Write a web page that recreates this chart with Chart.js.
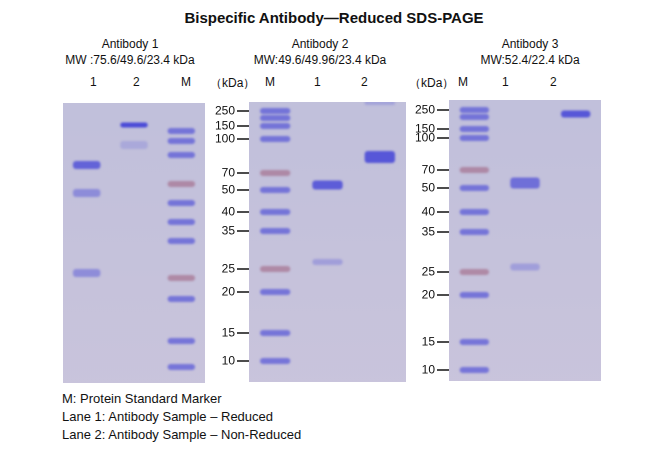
<!DOCTYPE html>
<html><head><meta charset="utf-8">
<script src="https://cdn.jsdelivr.net/npm/chart.js@4"></script>
<style>
body{margin:0;width:668px;height:450px;background:#fff;font-family:"Liberation Sans",Arial,sans-serif;position:relative;overflow:hidden}
.t{position:absolute;white-space:nowrap;color:#111;font-size:12px}
.c{position:absolute}
</style></head><body>
<div class="t" style="left:0;width:668px;text-align:center;top:9px;font-weight:bold;font-size:15px">Bispecific Antibody—Reduced SDS-PAGE</div>
<div class="t" style="left:40px;width:180px;text-align:center;top:37px">Antibody 1</div>
<div class="t" style="left:40px;width:180px;text-align:center;top:53px">MW :75.6/49.6/23.4 kDa</div>
<div class="t" style="left:230px;width:180px;text-align:center;top:37px">Antibody 2</div>
<div class="t" style="left:230px;width:180px;text-align:center;top:53px">MW:49.6/49.96/23.4 kDa</div>
<div class="t" style="left:440px;width:180px;text-align:center;top:37px">Antibody 3</div>
<div class="t" style="left:440px;width:180px;text-align:center;top:53px">MW:52.4/22.4 kDa</div>
<div class="t" style="left:90px;top:75px">1</div><div class="t" style="left:133px;top:75px">2</div><div class="t" style="left:181px;top:75px">M</div>
<div class="t" style="left:210px;top:75px">（kDa）</div>
<div class="t" style="left:265px;top:75px">M</div><div class="t" style="left:314px;top:75px">1</div><div class="t" style="left:361px;top:75px">2</div>
<div class="t" style="left:409px;top:75px">（kDa）</div>
<div class="t" style="left:458px;top:75px">M</div><div class="t" style="left:502px;top:75px">1</div><div class="t" style="left:550px;top:75px">2</div>
<div class="t" style="left:62px;top:391px;font-size:13px">M: Protein Standard Marker</div>
<div class="t" style="left:62px;top:409px;font-size:13px">Lane 1: Antibody Sample – Reduced</div>
<div class="t" style="left:62px;top:427px;font-size:13px">Lane 2: Antibody Sample – Non-Reduced</div>

<canvas id="g1" class="c" style="left:63px;top:103px"></canvas>
<canvas id="g2" class="c" style="left:206px;top:102px"></canvas>
<canvas id="g3" class="c" style="left:406px;top:100px"></canvas>
<script>
// migration distance from gel top (px units) for each band, and ladder labels
const kdaLabels = [250,150,100,70,50,40,35,25,20,15,10];
const gel2Ticks = [9,24,37,71,88,110,129,167,190,231,259];
const gel3Ticks = [10,29,38,70,88,112,132,172,195,242,270];

const gel1Lanes = ['1','2','M'];
const gel1Marker = [28,38,52,81,100,119,138,175,196,238,264];
const gel1Red = [81,175];
const gel1Lane1 = [62,90,170];
const gel1Lane2 = [22,42];
const gel1Lane1Int = [0.8,0.45,0.45];
const gel1Lane2Int = [1,0.2];

const gel2Lanes = ['M','1','2'];
const gel2Marker = [9,16,24,37,71,88,110,129,167,190,231,259];
const gel2Red = [71,167];
const gel2Lane1 = [83,160];
const gel2Lane2 = [55,1];
const gel2Lane1Int = [0.85,0.3];
const gel2Lane2Int = [0.9,0.25];

const gel3Lanes = ['M','1','2'];
const gel3Marker = [10,17,29,38,70,88,112,132,172,195,242,270];
const gel3Red = [70,172];
const gel3Lane1 = [83,167];
const gel3Lane2 = [14];
const gel3Lane1Int = [0.7,0.3];
const gel3Lane2Int = [0.9];

const blue = a => `rgba(75,75,215,${a})`;
function bands(lane, pos, ints, half, red){
  return pos.map((p,i)=>({x:lane, y:[p-half[i%half.length], p+half[i%half.length]],
    c: red && red.includes(p) ? 'rgba(160,100,130,0.6)' : blue(ints ? ints[i] : 0.65)}));
}
const gelBg = {id:'gelBg', beforeDraw(ch){const a=ch.chartArea,x=ch.ctx;x.save();
  const g=x.createLinearGradient(0,a.top,0,a.bottom);g.addColorStop(0,'#c1c0db');g.addColorStop(1,'#c9c4dc');
  x.fillStyle=g;x.fillRect(a.left,a.top,a.right-a.left,a.bottom-a.top);x.restore();},
  beforeDatasetsDraw(ch){ch.ctx.save();ch.ctx.filter='blur(2px)';},
  afterDatasetsDraw(ch){ch.ctx.restore();}};

function makeGel(id,w,h,lanes,marker,red,l1,i1,l2,i2,ticks,axisW,thick){
  const ds = [
    bands('M',marker,null,[3],red),
    bands('1',l1,i1,thick[0]),
    bands('2',l2,i2,thick[1])
  ].map(d=>({data:d, backgroundColor:d.map(p=>p.c), grouped:false, barPercentage:0.58, categoryPercentage:1, borderSkipped:false, borderRadius:3}));
  const cv=document.getElementById(id);
  cv.style.width=w+'px';cv.style.height=h+'px';
  new Chart(cv,{type:'bar',data:{labels:lanes,datasets:ds},plugins:[gelBg],
    options:{responsive:false,animation:false,devicePixelRatio:2,layout:{padding:0},
      plugins:{legend:{display:false},tooltip:{enabled:false}},
      scales:{x:{display:false},
        y:{min:0,max:h,reverse:true,display:!!ticks,
          afterFit(s){s.width=axisW;s.paddingTop=0;s.paddingBottom=0;},
          afterBuildTicks(s){if(ticks)s.ticks=ticks.map(v=>({value:v}));},
          ticks:{color:'#111',font:{size:12,family:'Liberation Sans'},padding:2,autoSkip:false,
            callback:(v,i)=>kdaLabels[i]},
          grid:{drawOnChartArea:false,tickLength:12,color:'#111',tickWidth:1.5},
          border:{display:false}}}}});
}
makeGel('g1',142,280,gel1Lanes,gel1Marker,gel1Red,gel1Lane1,gel1Lane1Int,gel1Lane2,gel1Lane2Int,null,0,[[4,4,4],[2.5,4]]);
makeGel('g2',200,280,gel2Lanes,gel2Marker,gel2Red,gel2Lane1,gel2Lane1Int,gel2Lane2,gel2Lane2Int,gel2Ticks,43,[[4.5,3],[6,2]]);
makeGel('g3',195,281,gel3Lanes,gel3Marker,gel3Red,gel3Lane1,gel3Lane1Int,gel3Lane2,gel3Lane2Int,gel3Ticks,43,[[5.5,3.5],[3.5]]);
</script></body></html>
